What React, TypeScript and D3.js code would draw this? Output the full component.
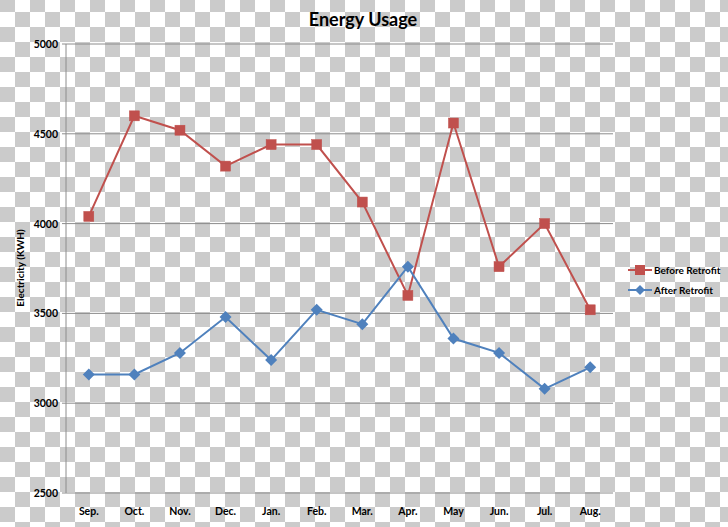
import React from "react";
import * as d3 from "d3";

const months = ["Sep.", "Oct.", "Nov.", "Dec.", "Jan.", "Feb.", "Mar.", "Apr.", "May", "Jun.", "Jul.", "Aug."];
const beforeRetrofit = [4040, 4600, 4520, 4320, 4440, 4440, 4120, 3600, 4560, 3760, 4000, 3520];
const afterRetrofit = [3160, 3160, 3280, 3480, 3240, 3520, 3440, 3760, 3360, 3280, 3080, 3200];
const yTicks = [2500, 3000, 3500, 4000, 4500, 5000];

const W = 728;
const H = 527;
const FONT = "Lato, 'Open Sans', sans-serif";

export default function App() {
  const x = d3.scaleBand<string>().domain(months).range([66, 613]);
  const y = d3.scaleLinear().domain([2500, 5000]).range([493, 44]);
  const cx = (m: string) => (x(m) as number) + x.bandwidth() / 2;
  const line = d3
    .line<number>()
    .x((_, i) => cx(months[i]))
    .y((d) => y(d));

  const red = "#c0504d";
  const blue = "#4f81bd";

  return (
    <svg
      width={W}
      height={H}
      style={{ position: "absolute", left: 0, top: 0 }}
      fontFamily={FONT}
    >
      <defs>
        <pattern id="checker" x={0} y={-3} width={30} height={30} patternUnits="userSpaceOnUse">
          <rect width={30} height={30} fill="#ffffff" />
          <rect x={0} y={0} width={15} height={15} fill="#cbcbcb" />
          <rect x={15} y={15} width={15} height={15} fill="#cbcbcb" />
        </pattern>
      </defs>
      <rect width={W} height={H} fill="url(#checker)" />

      {/* gridlines */}
      {yTicks.map((t) => (
        <line key={t} x1={62} x2={613} y1={y(t)} y2={y(t)} stroke="#8c8c8c" strokeWidth={1} />
      ))}
      <line x1={66} x2={66} y1={44} y2={493} stroke="#8c8c8c" strokeWidth={1} />

      {/* y tick labels */}
      {yTicks.map((t) => (
        <text key={t} x={58} y={y(t) + 4} textAnchor="end" fontSize={10.5} fontWeight={700} fill="#000">
          {t}
        </text>
      ))}

      {/* x labels */}
      {months.map((m) => (
        <text key={m} x={cx(m)} y={515} textAnchor="middle" fontSize={10.5} fontWeight={700} fill="#000">
          {m}
        </text>
      ))}

      {/* title */}
      <text x={363} y={26} textAnchor="middle" fontSize={18} fontWeight={700} fill="#000">
        Energy Usage
      </text>

      {/* y axis title */}
      <text
        transform={`translate(24, 268) rotate(-90)`}
        textAnchor="middle"
        fontSize={10}
        fontWeight={700}
        fill="#000"
      >
        Electricity (KWH)
      </text>

      {/* series */}
      <path d={line(beforeRetrofit) || ""} fill="none" stroke={red} strokeWidth={2} />
      {beforeRetrofit.map((v, i) => (
        <rect key={i} x={cx(months[i]) - 5} y={y(v) - 5} width={10} height={10} fill={red} stroke={red} strokeWidth={0.5} />
      ))}
      <path d={line(afterRetrofit) || ""} fill="none" stroke={blue} strokeWidth={2} />
      {afterRetrofit.map((v, i) => {
        const px = cx(months[i]);
        const py = y(v);
        return (
          <path key={i} d={`M${px},${py - 6}L${px + 6},${py}L${px},${py + 6}L${px - 6},${py}Z`} fill={blue} />
        );
      })}

      {/* legend */}
      <line x1={628} x2={652} y1={270} y2={270} stroke={red} strokeWidth={2} />
      <rect x={635} y={265} width={10} height={10} fill={red} />
      <text x={654} y={273.5} fontSize={10} fontWeight={700} fill="#000">Before Retrofit</text>
      <line x1={628} x2={652} y1={290} y2={290} stroke={blue} strokeWidth={2} />
      <path d="M640,285L645,290L640,295L635,290Z" fill={blue} />
      <text x={654} y={293.5} fontSize={10} fontWeight={700} fill="#000">After Retrofit</text>
    </svg>
  );
}
